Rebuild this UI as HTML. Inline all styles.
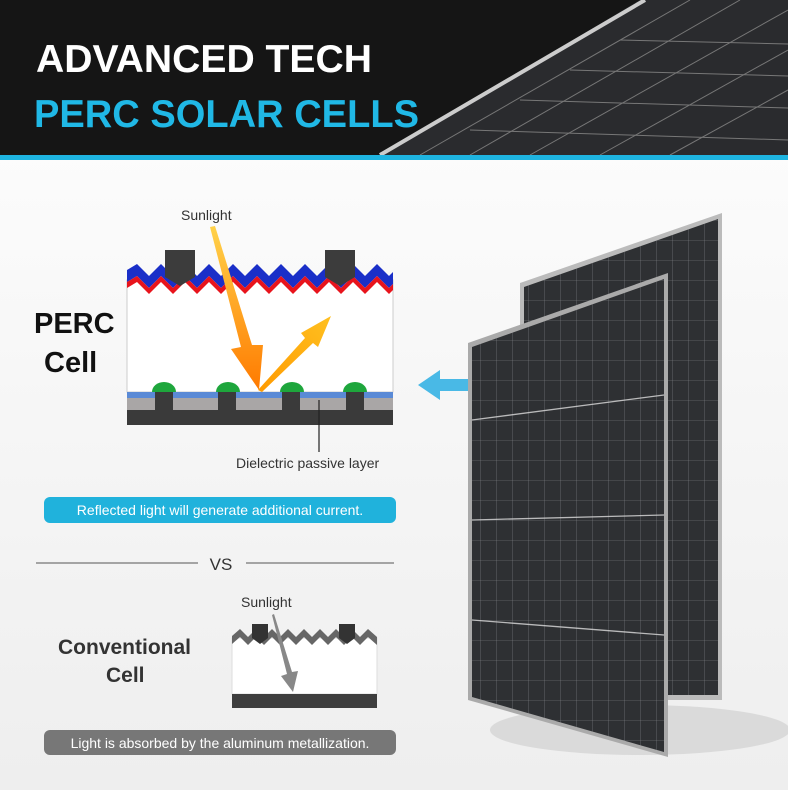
<!DOCTYPE html>
<html><head><style>
body{margin:0;width:788px;height:790px;overflow:hidden;background:#fff;font-family:"Liberation Sans",sans-serif}
</style></head><body>
<svg width="788" height="790" viewBox="0 0 788 790" xmlns="http://www.w3.org/2000/svg" font-family="Liberation Sans, sans-serif">
<defs>
<linearGradient id="bg" x1="0" y1="0" x2="0" y2="1"><stop offset="0" stop-color="#fff"/><stop offset="1" stop-color="#eee"/></linearGradient>
<linearGradient id="arr" x1="0" y1="0" x2="0" y2="1"><stop offset="0" stop-color="#ffd24a"/><stop offset="1" stop-color="#ff7a00"/></linearGradient>
<linearGradient id="arr2" x1="0" y1="1" x2="1" y2="0"><stop offset="0" stop-color="#ff9a00"/><stop offset="1" stop-color="#ffc020"/></linearGradient>
<pattern id="cells" width="16" height="20" patternUnits="userSpaceOnUse"><rect width="16" height="20" fill="#2e3033"/><path d="M0 0H16M0 0V20" stroke="#85878b" stroke-width="0.6"/></pattern>
</defs>
<rect width="788" height="790" fill="url(#bg)"/>
<rect width="788" height="155" fill="#151515"/>
<polygon points="380,155 640,0 788,0 788,155" fill="#2a2b2e"/>
<g stroke="#777" stroke-width="1">
<line x1="420" y1="155" x2="690" y2="0"/><line x1="470" y1="155" x2="740" y2="0"/><line x1="530" y1="155" x2="788" y2="10"/><line x1="600" y1="155" x2="788" y2="50"/><line x1="670" y1="155" x2="788" y2="90"/>
<line x1="470" y1="130" x2="788" y2="140"/><line x1="520" y1="100" x2="788" y2="108"/><line x1="570" y1="70" x2="788" y2="76"/><line x1="620" y1="40" x2="788" y2="44"/>
</g>
<line x1="380" y1="155" x2="645" y2="0" stroke="#ccc" stroke-width="4"/>
<rect y="155" width="788" height="5" fill="#1eb4e0"/>
<text x="36" y="72" font-size="39" font-weight="bold" fill="#fff" textLength="336" lengthAdjust="spacingAndGlyphs">ADVANCED TECH</text>
<text x="34" y="127" font-size="39" font-weight="bold" fill="#20b8e6" textLength="385" lengthAdjust="spacingAndGlyphs">PERC SOLAR CELLS</text>
<text x="181" y="220" font-size="14" fill="#333">Sunlight</text>
<rect x="127" y="280" width="266" height="112" fill="#fff" stroke="#ccc"/>
<path d="M127 270 L137 264 L149 276 L161 264 L173 276 L185 264 L197 276 L209 264 L221 276 L233 264 L245 276 L257 264 L269 276 L281 264 L293 276 L305 264 L317 276 L329 264 L341 276 L353 264 L365 276 L377 264 L389 276 L393 272 L393 284 L389 288 L377 276 L365 288 L353 276 L341 288 L329 276 L317 288 L305 276 L293 288 L281 276 L269 288 L257 276 L245 288 L233 276 L221 288 L209 276 L197 288 L185 276 L173 288 L161 276 L149 288 L137 276 L127 282Z" fill="#1a2fc8"/>
<path d="M127 282 L137 276 L149 288 L161 276 L173 288 L185 276 L197 288 L209 276 L221 288 L233 276 L245 288 L257 276 L269 288 L281 276 L293 288 L305 276 L317 288 L329 276 L341 288 L353 276 L365 288 L377 276 L389 288 L393 284 L393 290 L389 294 L377 282 L365 294 L353 282 L341 294 L329 282 L317 294 L305 282 L293 294 L281 282 L269 294 L257 282 L245 294 L233 282 L221 294 L209 282 L197 294 L185 282 L173 294 L161 282 L149 294 L137 282 L127 288Z" fill="#e8141c"/>
<path d="M165 250 H195 V277 L180 286 L165 277Z" fill="#3c3c3c"/>
<path d="M325 250 H355 V277 L340 286 L325 277Z" fill="#3c3c3c"/>
<rect x="127" y="392" width="266" height="6" fill="#5a8ad6"/>
<rect x="127" y="398" width="266" height="12" fill="#a9a6a6"/>
<rect x="127" y="410" width="266" height="15" fill="#3a3a3a"/>
<g fill="#3a3a3a"><rect x="155" y="392" width="18" height="18"/><rect x="218" y="392" width="18" height="18"/><rect x="282" y="392" width="18" height="18"/><rect x="346" y="392" width="18" height="18"/></g>
<g fill="#1ea63c"><path d="M152 392 A12 10 0 0 1 176 392Z"/><path d="M216 392 A12 10 0 0 1 240 392Z"/><path d="M280 392 A12 10 0 0 1 304 392Z"/><path d="M343 392 A12 10 0 0 1 367 392Z"/></g>
<polygon points="210,227 215,226 252,345 263,345 259,390 231,349 241,347" fill="url(#arr)"/>
<polygon points="258,390 305,338 301,333 331,316 318,347 313,343 262,392" fill="url(#arr2)"/>
<line x1="319" y1="400" x2="319" y2="452" stroke="#222" stroke-width="1.2"/>
<text x="236" y="468" font-size="14" fill="#333">Dielectric passive layer</text>
<text x="34" y="333" font-size="29" font-weight="bold" fill="#111">PERC</text>
<text x="44" y="372" font-size="29" font-weight="bold" fill="#111">Cell</text>
<rect x="44" y="497" width="352" height="26" rx="6" fill="#20b2dc"/>
<text x="220" y="515" font-size="14" fill="#fff" text-anchor="middle">Reflected light will generate additional current.</text>
<line x1="36" y1="563" x2="198" y2="563" stroke="#555"/>
<line x1="246" y1="563" x2="394" y2="563" stroke="#555"/>
<text x="221" y="570" font-size="17" fill="#333" text-anchor="middle">VS</text>
<text x="241" y="607" font-size="14" fill="#333">Sunlight</text>
<rect x="232" y="638" width="145" height="56" fill="#fff" stroke="#ddd"/>
<path d="M232 636 L240 629 L248 637 L256 629 L264 637 L272 629 L280 637 L288 629 L296 637 L304 629 L312 637 L320 629 L328 637 L336 629 L344 637 L352 629 L360 637 L368 629 L377 637 L377 645 L368 637 L360 645 L352 637 L344 645 L336 637 L328 645 L320 637 L312 645 L304 637 L296 645 L288 637 L280 645 L272 637 L264 645 L256 637 L248 645 L240 637 L232 644Z" fill="#666"/>
<path d="M252 624 H268 V638 L260 644 L252 638Z" fill="#333"/>
<path d="M339 624 H355 V638 L347 644 L339 638Z" fill="#333"/>
<polygon points="272,615 274,614 292,672 298,671 293,692 281,676 287,674" fill="#888"/>
<rect x="232" y="694" width="145" height="14" fill="#3e3e3e"/>
<text x="58" y="654" font-size="21" font-weight="bold" fill="#333">Conventional</text>
<text x="106" y="682" font-size="21" font-weight="bold" fill="#333">Cell</text>
<rect x="44" y="730" width="352" height="25" rx="6" fill="#777"/>
<text x="220" y="748" font-size="14" fill="#fff" text-anchor="middle">Light is absorbed by the aluminum metallization.</text>
<polygon points="418,385 440,370 440,379 490,379 490,391 440,391 440,400" fill="#49b9e6"/>
<ellipse cx="640" cy="730" rx="150" ry="25" fill="#ccc" opacity="0.6"/>
<polygon points="520,283 722,213 722,700 520,700" fill="#bbb"/>
<polygon points="524,287 718,219 718,695 524,695" fill="url(#cells)"/>
<polygon points="468,343 668,273 668,757 468,700" fill="#aaa"/>
<polygon points="472,347 664,279 664,752 472,697" fill="url(#cells)"/>
<g stroke="#ddd" stroke-width="1.3" opacity="0.8">
<line x1="472" y1="420" x2="664" y2="395"/><line x1="472" y1="520" x2="664" y2="515"/><line x1="472" y1="620" x2="664" y2="635"/>
</g>
</svg>
</body></html>
